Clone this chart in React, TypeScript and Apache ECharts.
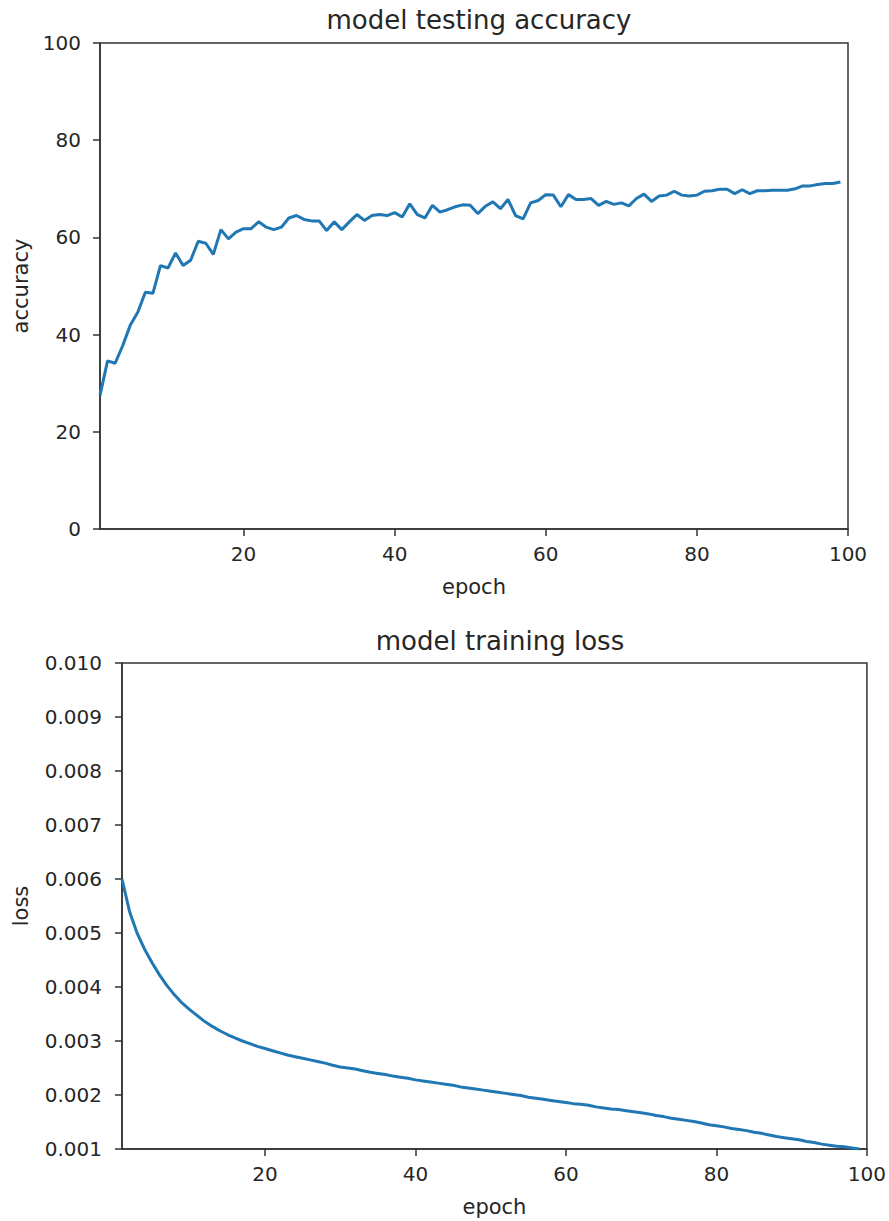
import React, { useEffect, useRef } from "react";
import * as echarts from "echarts";

const epochs: number[] = Array.from({ length: 99 }, (_, i) => i + 1);

const accuracy: number[] = [
  27.5, 34.6, 34.1, 37.7, 41.9, 44.6, 48.7, 48.5, 54.2, 53.7,
  56.8, 54.2, 55.3, 59.2, 58.8, 56.5, 61.6, 59.7, 61.1, 61.8,
  61.8, 63.2, 62.1, 61.6, 62.1, 64.0, 64.5, 63.7, 63.4, 63.4,
  61.4, 63.2, 61.6, 63.2, 64.7, 63.5, 64.5, 64.7, 64.5, 65.1,
  64.2, 66.9, 64.7, 64.0, 66.6, 65.2, 65.7, 66.3, 66.7, 66.6,
  64.9, 66.4, 67.3, 65.9, 67.8, 64.5, 63.8, 67.1, 67.6, 68.8,
  68.7, 66.3, 68.8, 67.8, 67.8, 68.0, 66.6, 67.4, 66.8, 67.1,
  66.5, 68.0, 68.9, 67.4, 68.5, 68.7, 69.5, 68.7, 68.5, 68.7,
  69.5, 69.6, 69.9, 69.9, 69.0, 69.8, 69.0, 69.6, 69.6, 69.7,
  69.7, 69.7, 70.0, 70.6, 70.6, 70.9, 71.1, 71.1, 71.4,
];

const loss: number[] = [
  0.00600, 0.00540, 0.00500, 0.00470, 0.00445, 0.00422, 0.00402, 0.00385, 0.00370, 0.00358,
  0.00347, 0.00336, 0.00327, 0.00319, 0.00312, 0.00306, 0.00300, 0.00295, 0.00290, 0.00286,
  0.00282, 0.00278, 0.00274, 0.00271, 0.00268, 0.00265, 0.00262, 0.00259, 0.00255, 0.00252,
  0.00250, 0.00248, 0.00245, 0.00242, 0.00240, 0.00238, 0.00235, 0.00233, 0.00231, 0.00228,
  0.00226, 0.00224, 0.00222, 0.00220, 0.00218, 0.00215, 0.00213, 0.00211, 0.00209, 0.00207,
  0.00205, 0.00203, 0.00201, 0.00199, 0.00196, 0.00194, 0.00192, 0.00190, 0.00188, 0.00186,
  0.00184, 0.00183, 0.00181, 0.00178, 0.00176, 0.00174, 0.00173, 0.00171, 0.00169, 0.00167,
  0.00165, 0.00162, 0.00160, 0.00157, 0.00155, 0.00153, 0.00151, 0.00148, 0.00145, 0.00143,
  0.00141, 0.00138, 0.00136, 0.00134, 0.00131, 0.00129, 0.00126, 0.00123, 0.00121, 0.00119,
  0.00117, 0.00114, 0.00112, 0.00109, 0.00107, 0.00105, 0.00104, 0.00102, 0.00100,
];

const xTicks: number[] = [20, 40, 60, 80, 100];
const accTicks: number[] = [0, 20, 40, 60, 80, 100];
const lossTicks: number[] = [0.001, 0.002, 0.003, 0.004, 0.005, 0.006, 0.007, 0.008, 0.009, 0.010];

const FONT = "DejaVu Sans";
const TEXT = "#262626";
const AXIS = "#333333";
const LINE = "#1f77b4";

export default function App() {
  const ref = useRef<HTMLDivElement>(null);

  useEffect(() => {
    if (!ref.current) return;
    const chart = echarts.init(ref.current, undefined, { renderer: "svg" });

    const axisLine = { show: true, lineStyle: { color: AXIS, width: 1.5 } };
    const tick = { show: true, length: 7, lineStyle: { color: AXIS, width: 1.5 } };
    const label = { color: TEXT, fontFamily: FONT, fontSize: 20 };
    const nameStyle = { color: TEXT, fontFamily: FONT, fontSize: 21 };

    const xAxisBase = (gridIndex: number, gap: number) => ({
      type: "value" as const,
      gridIndex,
      min: 1,
      max: 100,
      name: "epoch",
      nameLocation: "middle" as const,
      nameGap: gap,
      nameTextStyle: nameStyle,
      axisLine,
      axisTick: { ...tick, customValues: xTicks },
      axisLabel: { ...label, margin: 15, customValues: xTicks },
      splitLine: { show: false },
    });

    chart.setOption({
      animation: false,
      backgroundColor: "#ffffff",
      title: [
        {
          text: "model testing accuracy",
          left: 474,
          top: 2,
          textAlign: "center",
          textStyle: { color: TEXT, fontFamily: FONT, fontSize: 26, fontWeight: "normal" },
        },
        {
          text: "model training loss",
          left: 495,
          top: 623,
          textAlign: "center",
          textStyle: { color: TEXT, fontFamily: FONT, fontSize: 26, fontWeight: "normal" },
        },
      ],
      grid: [
        { left: 100, right: 41, top: 43, height: 486, show: true, borderColor: AXIS, borderWidth: 1.5, backgroundColor: "transparent" },
        { left: 122, right: 21, top: 663, height: 486, show: true, borderColor: AXIS, borderWidth: 1.5, backgroundColor: "transparent" },
      ],
      xAxis: [xAxisBase(0, 47), xAxisBase(1, 47)],
      yAxis: [
        {
          type: "value",
          gridIndex: 0,
          min: 0,
          max: 100,
          name: "accuracy",
          nameLocation: "middle",
          nameGap: 67,
          nameTextStyle: nameStyle,
          axisLine,
          axisTick: { ...tick, customValues: accTicks },
          axisLabel: { ...label, margin: 19, customValues: accTicks },
          splitLine: { show: false },
        },
        {
          type: "value",
          gridIndex: 1,
          min: 0.001,
          max: 0.01,
          name: "loss",
          nameLocation: "middle",
          nameGap: 91,
          nameTextStyle: nameStyle,
          axisLine,
          axisTick: { ...tick, customValues: lossTicks },
          axisLabel: {
            ...label,
            margin: 20,
            customValues: lossTicks,
            formatter: (v: number) => v.toFixed(3),
          },
          splitLine: { show: false },
        },
      ],
      series: [
        {
          type: "line",
          xAxisIndex: 0,
          yAxisIndex: 0,
          data: epochs.map((e, i) => [e, accuracy[i]]),
          showSymbol: false,
          lineStyle: { color: LINE, width: 3 },
          itemStyle: { color: LINE },
        },
        {
          type: "line",
          xAxisIndex: 1,
          yAxisIndex: 1,
          data: epochs.map((e, i) => [e, loss[i]]),
          showSymbol: false,
          lineStyle: { color: LINE, width: 3 },
          itemStyle: { color: LINE },
        },
      ],
    });

    return () => chart.dispose();
  }, []);

  return (
    <div
      ref={ref}
      style={{ position: "absolute", left: 0, top: 0, width: 889, height: 1221 }}
    />
  );
}
